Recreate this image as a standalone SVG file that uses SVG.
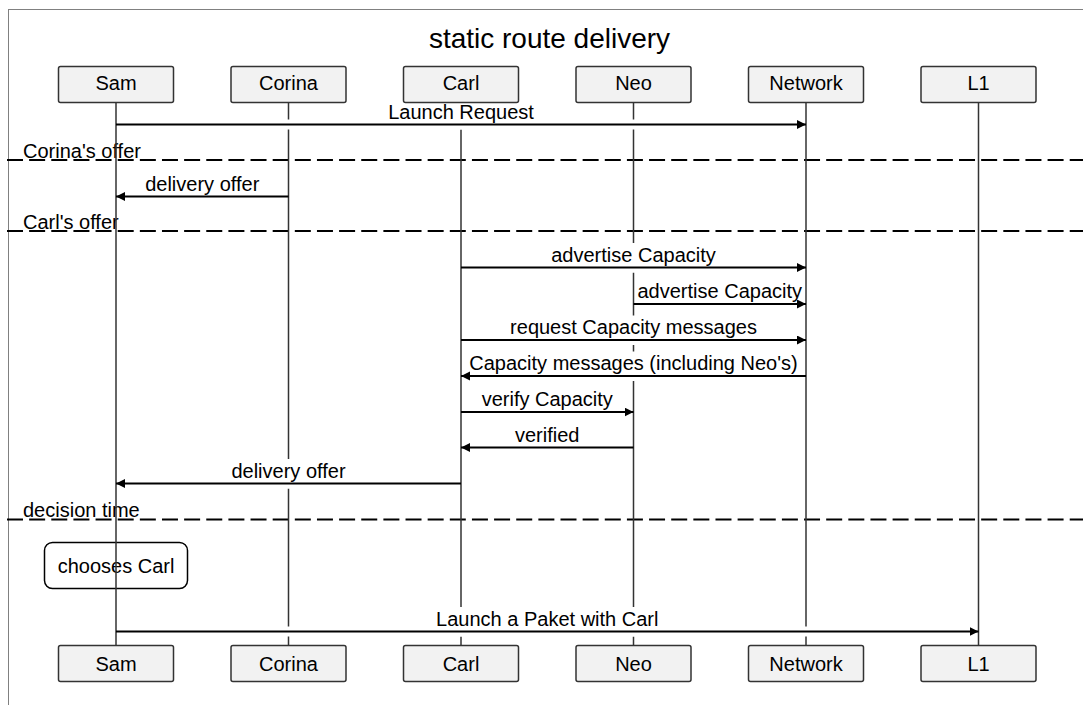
<svg xmlns="http://www.w3.org/2000/svg" width="1083" height="705" viewBox="0 0 1083 705">
<style>
text{font-family:"Liberation Sans",Arial,sans-serif;fill:#000}
.t{font-size:20px;text-anchor:middle}
.d{font-size:20px}
.box{fill:#f2f2f2;stroke:#333;stroke-width:1.5}
.life{stroke:#333;stroke-width:1.5}
.msg{stroke:#000;stroke-width:2;fill:none;marker-end:url(#ah)}
.div{stroke:#000;stroke-width:2;stroke-dasharray:16 6.14}
.bg{fill:#fff}
</style>
<defs>
<marker id="ah" markerUnits="userSpaceOnUse" markerWidth="10" markerHeight="10" refX="9" refY="4.5" orient="auto">
<path d="M0,0 L9,4.5 L0,9 z" fill="#000"/>
</marker>
</defs>
<rect x="8.5" y="9.5" width="1090" height="710" fill="#fff" stroke="#000" stroke-width="1" stroke-dasharray="1 1"/>
<text x="549.5" y="47.5" style="font-size:28px;text-anchor:middle">static route delivery</text>
<g id="dividers">
<line class="div" x1="7" y1="160" x2="1083" y2="160"/>
<text class="d" x="23" y="157.5">Corina's offer</text>
<line class="div" x1="7" y1="231" x2="1083" y2="231"/>
<text class="d" x="23" y="228.5">Carl's offer</text>
<line class="div" x1="7" y1="519.5" x2="1083" y2="519.5"/>
<text class="d" x="23" y="517">decision time</text>
</g>
<g id="note">
<rect x="44.5" y="542.5" width="143" height="46" rx="8" fill="#fff" stroke="#000" stroke-width="1.5"/>
<text class="t" x="116" y="572.5">chooses Carl</text>
</g>
<g id="lifelines">
<line class="life" x1="116" y1="102.5" x2="116" y2="645.5"/>
<line class="life" x1="288.5" y1="102.5" x2="288.5" y2="645.5"/>
<line class="life" x1="461" y1="102.5" x2="461" y2="645.5"/>
<line class="life" x1="633.5" y1="102.5" x2="633.5" y2="645.5"/>
<line class="life" x1="806" y1="102.5" x2="806" y2="645.5"/>
<line class="life" x1="978.5" y1="102.5" x2="978.5" y2="645.5"/>
</g>
<g id="connectors">
<rect class="bg" x="117.5" y="119.5" width="687" height="10"/>
<rect class="bg" x="386.2" y="100" width="149.6" height="29.5"/>
<line class="msg" x1="116" y1="124.5" x2="806" y2="124.5"/>
<text class="t" x="461" y="118.5">Launch Request</text>

<rect class="bg" x="117.5" y="191.5" width="169.5" height="10"/>
<rect class="bg" x="143" y="172" width="118.5" height="29.5"/>
<line class="msg" x1="288.5" y1="196.5" x2="116" y2="196.5"/>
<text class="t" x="202.25" y="190.5">delivery offer</text>

<rect class="bg" x="462.5" y="262.5" width="342" height="10"/>
<rect class="bg" x="549.25" y="243" width="168.5" height="29.5"/>
<line class="msg" x1="461" y1="267.5" x2="806" y2="267.5"/>
<text class="t" x="633.5" y="261.5">advertise Capacity</text>

<rect class="bg" x="635" y="299" width="169.5" height="10"/>
<line class="msg" x1="633.5" y1="304" x2="806" y2="304"/>
<text class="t" x="719.75" y="298">advertise Capacity</text>

<rect class="bg" x="462.5" y="335" width="342" height="10"/>
<rect class="bg" x="508.1" y="315.5" width="250.8" height="29.5"/>
<line class="msg" x1="461" y1="340" x2="806" y2="340"/>
<text class="t" x="633.5" y="334">request Capacity messages</text>

<rect class="bg" x="462.5" y="371" width="342" height="10"/>
<rect class="bg" x="467.3" y="351.5" width="332.4" height="29.5"/>
<line class="msg" x1="806" y1="376" x2="461" y2="376"/>
<text class="t" x="633.5" y="370">Capacity messages (including Neo's)</text>

<line class="msg" x1="461" y1="412" x2="633.5" y2="412"/>
<text class="t" x="547.25" y="406">verify Capacity</text>

<line class="msg" x1="633.5" y1="447.5" x2="461" y2="447.5"/>
<text class="t" x="547.25" y="441.5">verified</text>

<rect class="bg" x="117.5" y="478.5" width="342" height="10"/>
<rect class="bg" x="229.25" y="459" width="118.5" height="29.5"/>
<line class="msg" x1="461" y1="483.5" x2="116" y2="483.5"/>
<text class="t" x="288.5" y="477.5">delivery offer</text>

<rect class="bg" x="117.5" y="626.5" width="859.5" height="10"/>
<rect class="bg" x="434.1" y="607" width="226.3" height="29.5"/>
<line class="msg" x1="116" y1="631.5" x2="978.5" y2="631.5"/>
<text class="t" x="547.25" y="625.5">Launch a Paket with Carl</text>
</g>
<g id="p-sam">
<rect class="box" x="58.5" y="66.5" width="115" height="36" rx="2"/>
<text class="t" x="116" y="90">Sam</text>
<rect class="box" x="58.5" y="645.5" width="115" height="36" rx="2"/>
<text class="t" x="116" y="670.5">Sam</text>
</g>
<g id="p-corina">
<rect class="box" x="231" y="66.5" width="115" height="36" rx="2"/>
<text class="t" x="288.5" y="90">Corina</text>
<rect class="box" x="231" y="645.5" width="115" height="36" rx="2"/>
<text class="t" x="288.5" y="670.5">Corina</text>
</g>
<g id="p-carl">
<rect class="box" x="403.5" y="66.5" width="115" height="36" rx="2"/>
<text class="t" x="461" y="90">Carl</text>
<rect class="box" x="403.5" y="645.5" width="115" height="36" rx="2"/>
<text class="t" x="461" y="670.5">Carl</text>
</g>
<g id="p-neo">
<rect class="box" x="576" y="66.5" width="115" height="36" rx="2"/>
<text class="t" x="633.5" y="90">Neo</text>
<rect class="box" x="576" y="645.5" width="115" height="36" rx="2"/>
<text class="t" x="633.5" y="670.5">Neo</text>
</g>
<g id="p-network">
<rect class="box" x="748.5" y="66.5" width="115" height="36" rx="2"/>
<text class="t" x="806" y="90">Network</text>
<rect class="box" x="748.5" y="645.5" width="115" height="36" rx="2"/>
<text class="t" x="806" y="670.5">Network</text>
</g>
<g id="p-l1">
<rect class="box" x="921" y="66.5" width="115" height="36" rx="2"/>
<text class="t" x="978.5" y="90">L1</text>
<rect class="box" x="921" y="645.5" width="115" height="36" rx="2"/>
<text class="t" x="978.5" y="670.5">L1</text>
</g>
</svg>
